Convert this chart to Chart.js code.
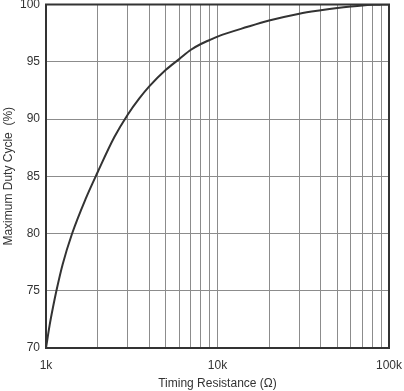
<!DOCTYPE html>
<html>
<head>
<meta charset="utf-8">
<script src="https://cdn.jsdelivr.net/npm/chart.js@4/dist/chart.umd.min.js"></script>
<style>
html,body{margin:0;padding:0;background:#fff;}
canvas{display:block;}
</style>
</head>
<body>
<canvas id="c" width="404" height="391"></canvas>
<script>
const resistance = [1000, 1050, 1100, 1150, 1250, 1420, 1700, 2000, 2500, 3000, 3500, 4000, 5000, 6000, 7000, 8000, 9000, 10000, 15000, 20000, 30000, 40000, 50000, 60000, 70000, 80000, 90000, 100000];
const dutyCycle  = [70, 72.0, 73.6, 75, 77.3, 80, 83, 85.35, 88.4, 90.4, 91.8, 92.85, 94.3, 95.25, 96.05, 96.55, 96.9, 97.2, 98.05, 98.6, 99.2, 99.5, 99.7, 99.83, 99.92, 99.97, 99.99, 100];
const xTickValues = [1000, 2000, 3000, 4000, 5000, 6000, 7000, 8000, 9000, 10000, 20000, 30000, 40000, 50000, 60000, 70000, 80000, 90000, 100000];
const xLabelValues = [1000, 10000, 100000];
const xLabelTexts = ['1k', '10k', '100k'];
const yTickValues = [70, 75, 80, 85, 90, 95, 100];

const FONT = "'Liberation Sans', Arial, sans-serif";
const TEXT = '#333333';
const GRID = '#8c8c8c';
const FRAME = '#333333';

const framePlugin = {
  id: 'frame',
  afterDatasetsDraw(chart) {
    const a = chart.chartArea, ctx = chart.ctx;
    ctx.save();
    ctx.strokeStyle = FRAME;
    ctx.lineWidth = 2;
    ctx.strokeRect(a.left, a.top, a.right - a.left, a.bottom - a.top);
    ctx.restore();
  }
};

new Chart(document.getElementById('c'), {
  type: 'line',
  data: {
    datasets: [{
      data: resistance.map((r, i) => ({x: r, y: dutyCycle[i]})),
      borderColor: '#333333',
      borderWidth: 2,
      pointRadius: 0,
      fill: false,
      cubicInterpolationMode: 'monotone'
    }]
  },
  options: {
    responsive: false,
    devicePixelRatio: 1,
    animation: false,
    layout: {padding: {left: 0, right: 15, top: 4.5, bottom: 0}},
    plugins: {legend: {display: false}, tooltip: {enabled: false}},
    scales: {
      x: {
        type: 'logarithmic',
        min: 1000,
        max: 100000,
        afterBuildTicks: (axis) => { axis.ticks = xTickValues.map(v => ({value: v})); },
        afterFit: (s) => { s.paddingLeft = 0; s.paddingRight = 0; s.height = 43; },
        ticks: {
          autoSkip: false,
          maxRotation: 0,
          padding: 10.5,
          color: TEXT,
          font: {family: FONT, size: 12},
          callback: (v) => { const i = xLabelValues.indexOf(v); return i >= 0 ? xLabelTexts[i] : ''; }
        },
        grid: {color: GRID, lineWidth: 1, drawTicks: false},
        border: {display: false},
        title: {display: true, text: 'Timing Resistance (Ω)', color: TEXT, font: {family: FONT, size: 12}, padding: {top: 0, bottom: 0}}
      },
      y: {
        type: 'linear',
        min: 70,
        max: 100,
        afterBuildTicks: (axis) => { axis.ticks = yTickValues.map(v => ({value: v})); },
        afterFit: (s) => { s.paddingTop = 0; s.paddingBottom = 0; s.width = 46; },
        ticks: {
          padding: 6,
          color: TEXT,
          font: {family: FONT, size: 12}
        },
        grid: {color: GRID, lineWidth: 1, drawTicks: false},
        border: {display: false},
        title: {display: true, text: 'Maximum Duty Cycle  (%)', color: TEXT, font: {family: FONT, size: 12}, padding: {top: 1, bottom: 0}}
      }
    }
  },
  plugins: [framePlugin]
});
</script>
</body>
</html>
